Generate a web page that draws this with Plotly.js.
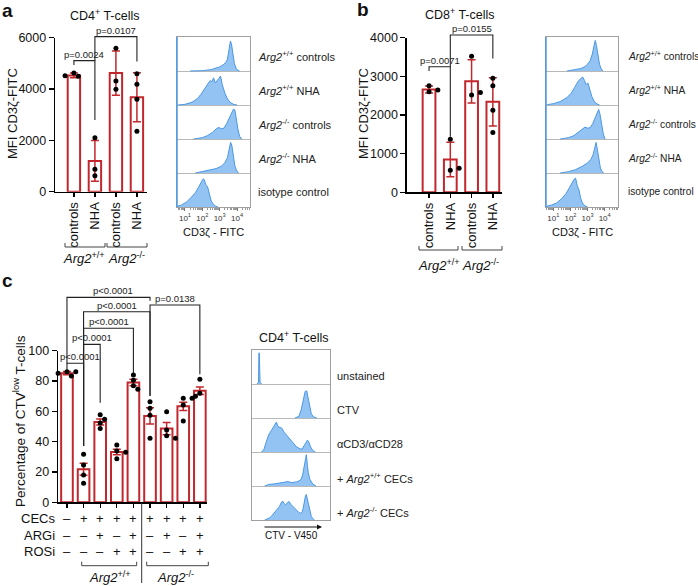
<!DOCTYPE html>
<html><head><meta charset="utf-8">
<script src="https://cdn.plot.ly/plotly-3.0.1.min.js"></script>
<style>html,body{margin:0;padding:0;background:#fff}#chart{width:698px;height:586px}</style>
</head><body><div id="chart"></div>
<script>
// ================= DATA =================
const abCategories = ['controls','NHA','controls','NHA'];
const cd4Means = [4530, 1200, 4620, 3680];
const cd4SD = [90, 790, 860, 955];
const cd4Points = [[4620,4500,4520],[2100,870,620],[5590,4310,3990],[4600,4190,3600,2360]];
const cd8Means = [2660, 850, 2870, 2340];
const cd8SD = [90, 445, 560, 625];
const cd8Points = [[2760,2600,2650],[1370,570,620],[3520,2520,2580],[2950,2760,2120,1550]];
const ctvMeans = [85.2, 21.8, 53.0, 33.2, 79.0, 57.0, 48.6, 63.3, 73.6];
const ctvSEM = [1.0, 4.0, 2.0, 1.8, 2.2, 5.3, 4.0, 2.7, 2.5];
const ctvPoints = [[86.1,86.1,85.1,83.3],[31.7,24.6,18.0,12.5],[57.8,54.7,52.3,48.6],[37.8,33.8,33.0,28.8],
  [84.0,80.5,76.9,74.5],[66.4,62.0,57.4,42.2],[59.8,47.7,43.9,42.2],[68.6,68.6,64.2,53.6],[81.1,72.0,71.0,70.0]];
const treatNames = ['CECs','ARGi','ROSi'];
const cecsRow = ['–','+','+','+','+','+','+','+','+'];
const argiRow = ['–','–','+','–','+','–','+','–','+'];
const rosiRow = ['–','–','–','+','+','–','–','+','+'];
const genotypes = ['<i>Arg2</i><sup>+/+</sup>','<i>Arg2</i><sup>-/-</sup>'];
const histABLabels = ['<i>Arg2</i><sup>+/+</sup> controls','<i>Arg2</i><sup>+/+</sup> NHA','<i>Arg2</i><sup>-/-</sup> controls','<i>Arg2</i><sup>-/-</sup> NHA','isotype control'];
const histCLabels = ['unstained','CTV','αCD3/αCD28','+ <i>Arg2</i><sup>+/+</sup> CECs','+ <i>Arg2</i><sup>-/-</sup> CECs'];
const logTickVals = [1,2,3,4];
const logTickText = ['10<sup>1</sup>','10<sup>2</sup>','10<sup>3</sup>','10<sup>4</sup>'];

// histogram outlines (x = log10 FITC for a/b, arbitrary CTV units for c; y = relative count)
const hA1x=[1.3,2.0,2.5,2.8,3.0,3.2,3.35,3.45,3.55,3.62,3.68,3.75,3.85,3.95,4.05,4.15];
const hA1y=[0,0.01,0.04,0.08,0.12,0.18,0.25,0.35,0.6,0.88,0.8,0.5,0.22,0.08,0.02,0];
const hA2x=[0.6,1.0,1.4,1.7,1.9,2.1,2.3,2.45,2.55,2.65,2.75,2.85,2.95,3.05,3.15,3.3,3.45,3.6,3.8,4.0];
const hA2y=[0,0.02,0.08,0.18,0.3,0.45,0.6,0.72,0.68,0.8,0.65,0.7,0.78,0.85,0.6,0.35,0.18,0.08,0.02,0];
const hA3x=[1.5,2.0,2.3,2.6,2.8,2.95,3.1,3.25,3.4,3.55,3.68,3.8,3.88,3.95,4.05,4.15,4.27];
const hA3y=[0,0.04,0.1,0.2,0.3,0.34,0.3,0.32,0.45,0.6,0.75,0.88,0.85,0.6,0.3,0.08,0];
const hA4x=[1.6,2.0,2.4,2.8,3.1,3.3,3.45,3.55,3.63,3.7,3.78,3.88,4.0,4.1];
const hA4y=[0,0.04,0.08,0.13,0.2,0.3,0.45,0.7,0.9,0.82,0.5,0.2,0.05,0];
const hA5x=[0.55,0.8,1.1,1.35,1.6,1.8,1.95,2.05,2.12,2.2,2.3,2.4,2.5,2.6,2.75,2.9];
const hA5y=[0.02,0.06,0.15,0.28,0.42,0.6,0.75,0.83,0.8,0.65,0.6,0.38,0.2,0.1,0.03,0];
const hB1x=[1.8,2.3,2.6,2.85,3.0,3.15,3.28,3.38,3.45,3.52,3.6,3.7,3.8,3.9];
const hB1y=[0,0.03,0.07,0.13,0.2,0.3,0.5,0.75,0.9,0.75,0.45,0.2,0.06,0];
const hB2x=[0.65,1.0,1.4,1.8,2.05,2.25,2.45,2.6,2.72,2.82,2.92,3.02,3.12,3.25,3.4,3.55,3.7];
const hB2y=[0.01,0.04,0.1,0.22,0.35,0.52,0.7,0.78,0.82,0.72,0.6,0.65,0.45,0.25,0.1,0.03,0];
const hB3x=[1.4,1.9,2.2,2.5,2.7,2.85,3.0,3.15,3.3,3.45,3.57,3.65,3.72,3.82,3.92,4.02];
const hB3y=[0,0.04,0.1,0.22,0.3,0.35,0.32,0.33,0.45,0.65,0.82,0.87,0.75,0.45,0.15,0];
const hB4x=[1.4,1.9,2.3,2.7,3.0,3.2,3.33,3.43,3.5,3.57,3.65,3.75,3.85,3.95];
const hB4y=[0,0.04,0.1,0.2,0.3,0.4,0.55,0.8,0.9,0.7,0.4,0.15,0.04,0];
const hB5x=[0.6,0.9,1.2,1.5,1.75,1.95,2.1,2.22,2.3,2.4,2.5,2.6,2.7,2.85,3.0];
const hB5y=[0.02,0.06,0.12,0.25,0.4,0.58,0.72,0.82,0.85,0.62,0.5,0.25,0.12,0.03,0];
const hC1x=[6,8,8.5,9,9.5,10,12];
const hC1y=[0,0.05,0.9,0.92,0.5,0.05,0];
const hC2x=[55,60,63,66,68,70,72,74,76,79,83];
const hC2y=[0,0.05,0.25,0.6,0.78,0.8,0.6,0.3,0.12,0.03,0];
const hC3x=[12,15,18,21,25,28,31,33,35,38,41,44,47,50,53,57,61,64,67,69,71,73,75,78,81];
const hC3y=[0,0.08,0.3,0.5,0.65,0.75,0.88,0.75,0.72,0.7,0.58,0.5,0.4,0.32,0.25,0.15,0.1,0.08,0.2,0.3,0.35,0.28,0.15,0.04,0];
const hC4x=[16,19,22,28,35,42,46,50,54,57,60,63,65,67,68.5,69.5,71,72,74,76,78,82];
const hC4y=[0,0.02,0.05,0.06,0.08,0.1,0.13,0.1,0.11,0.12,0.15,0.2,0.35,0.6,0.85,0.92,0.6,0.4,0.2,0.1,0.05,0];
const hC5x=[16,18.5,22,25,28,30,33,35,37,39,41,43,45,47,50,52,55,57,60,62,64,65.5,67,68.5,69.5,71,72.5,74,76,78,80];
const hC5y=[0,0.02,0.06,0.12,0.2,0.26,0.33,0.4,0.5,0.56,0.48,0.44,0.5,0.55,0.45,0.4,0.33,0.3,0.22,0.2,0.22,0.35,0.6,0.72,0.75,0.6,0.42,0.22,0.1,0.04,0];

// ================= LAYOUT HELPERS =================
const W=698, H=586;
const PX = v => v/W, PY = v => 1 - v/H;
const RED='#c1272d', BFILL='#92c3f2', BLINE='#4b98e4';
const FONT='Liberation Sans, Arial, sans-serif';

// bracket specs (x in bar index, y in data units)
const cd4Br = [{a:0,b:1,top:5107,la:4940,lb:2795,t:'p=0.0024'},{a:1,b:3,top:6043,la:5107,lb:5068,t:'p=0.0107'}];
const cd8Br = [{a:0,b:1,top:3248,la:3137,lb:1440,t:'p=0.0071'},{a:1,b:3,top:4068,la:3248,lb:3465,t:'p=0.0155'}];
const ctvBr = [{a:0,b:1,top:91.7,la:87.3,lb:37.1,t:'p&lt;0.0001',tx:0.77},
  {a:1,b:2,top:104.2,la:37.1,lb:65.7,t:'p&lt;0.0001'},
  {a:1,b:4,top:114.8,la:37.1,lb:85.1,t:'p&lt;0.0001'},
  {a:1,b:5,top:125.7,la:37.1,lb:70.1,t:'p&lt;0.0001'},
  {a:0,b:5,top:135.2,la:91.7,lb:133,t:'p&lt;0.0001',tx:2.78},
  {a:5,b:8,top:130.1,la:70.1,lb:84.4,t:'p=0.0138'}];

function swarm(vals, pxY, pxX, d){
  const placed=[], out=[];
  vals.forEach(v=>{
    const yp=v*pxY; let chosen=0;
    for(let k=0;k<30;k++){
      const dx = k===0?0:((k%2)?1:-1)*Math.ceil(k/2)*d*0.85;
      if(placed.every(p=>Math.hypot(p.x-dx,p.y-yp)>=d)){chosen=dx;break;}
    }
    placed.push({x:chosen,y:yp}); out.push(chosen/pxX);
  });
  return out;
}

const traces=[], shapes=[], annotations=[];
function A(o){ annotations.push(Object.assign({showarrow:false, xanchor:'center', yanchor:'middle'}, o)); }
function barPanel(means, err, pts, xa, ya, bw, pxY, pxX){
  traces.push({type:'bar', x:means.map((_,i)=>i), y:means, width:bw, xaxis:xa, yaxis:ya,
    marker:{color:'white', line:{color:RED,width:2}},
    error_y:{type:'data', array:err, visible:true, color:RED, thickness:1.5, width:4},
    hoverinfo:'skip', showlegend:false});
  const xs=[], ys=[];
  pts.forEach((g,i)=>{ const off=swarm(g,pxY,pxX,5.2); g.forEach((v,j)=>{xs.push(i+off[j]); ys.push(v);}); });
  traces.push({type:'scatter', mode:'markers', x:xs, y:ys, xaxis:xa, yaxis:ya,
    marker:{color:'#000', size:5}, hoverinfo:'skip', showlegend:false, cliponaxis:false});
}
function brackets(list, xa, ya){
  traces.push({type:'scatter', mode:'markers', x:[0], y:[0], xaxis:xa, yaxis:ya, marker:{opacity:0}, hoverinfo:'skip', showlegend:false});
  list.forEach(b=>{
    shapes.push({type:'path', xref:xa, yref:ya, layer:'above',
      path:`M ${b.a} ${b.la} L ${b.a} ${b.top} L ${b.b} ${b.top} L ${b.b} ${b.lb}`,
      line:{color:'#222', width:1.1}});
    A({xref:xa, yref:ya, x:(b.tx!==undefined?b.tx:(b.a+b.b)/2), y:b.top, yanchor:'bottom', yshift:-1,
      text:b.t, font:{size:9.5, color:'#222'}});
  });
}
function hist(rowsX, rowsY, xa, ya){
  rowsX.forEach((xs,i)=>{
    const base=4-i, hs=rowsY[i];
    traces.push({type:'scatter', mode:'lines', xaxis:xa, yaxis:ya,
      x:[xs[0]].concat(xs,[xs[xs.length-1]]), y:[base].concat(hs.map(h=>base+h),[base]),
      fill:'toself', fillcolor:BFILL, line:{color:BLINE,width:1}, hoverinfo:'skip', showlegend:false});
  });
}

// ---- panels a, b, c bars ----
barPanel(cd4Means, cd4SD, cd4Points, 'x','y', 0.59, 154/6000, 21);
brackets(cd4Br, 'x2','y2');
barPanel(cd8Means, cd8SD, cd8Points, 'x3','y3', 0.6, 154.6/4000, 21.3);
brackets(cd8Br, 'x4','y4');
barPanel(ctvMeans, ctvSEM, ctvPoints, 'x5','y5', 0.7, 1.516, 16.625);
brackets(ctvBr, 'x6','y6');

// ---- histograms ----
hist([hA1x,hA2x,hA3x,hA4x,hA5x],[hA1y,hA2y,hA3y,hA4y,hA5y],'x7','y7');
hist([hB1x,hB2x,hB3x,hB4x,hB5x],[hB1y,hB2y,hB3y,hB4y,hB5y],'x8','y8');
hist([hC1x,hC2x,hC3x,hC4x,hC5x],[hC1y,hC2y,hC3y,hC4y,hC5y],'x9','y9');

// ================= AXES =================
const minorLog=[]; for(let d=0;d<5;d++) for(let k=2;k<10;k++) minorLog.push(d+Math.log10(k));
function barX(dom, range, labels, anchor){
  return {domain:dom, range, anchor, showline:true, linecolor:'#000', linewidth:1.3, ticks:'outside', ticklen:4, tickwidth:1.3, tickcolor:'#000',
    tickvals:labels?labels.map((_,i)=>i):[0,1,2,3,4,5,6,7,8], ticktext:labels||undefined, showticklabels:!!labels, tickangle:-90,
    tickfont:{size:13,color:'#111'}, showgrid:false, zeroline:false, fixedrange:true};
}
function barY(dom, range, dtick, anchor){
  return {domain:dom, range, anchor, showline:true, linecolor:'#000', linewidth:1.3, ticks:'outside', ticklen:5, tickwidth:1.3, tickcolor:'#000',
    dtick, tick0:0, tickfont:{size:12.5,color:'#111'}, showgrid:false, zeroline:false, fixedrange:true};
}
function hidden(dom, range, anchor){ return {domain:dom, range, anchor, visible:false, fixedrange:true}; }
function histX(dom, range, anchor, logTicks){
  const a={domain:dom, range, anchor, showline:true, mirror:true, linecolor:'#a0a0a0', linewidth:1, showgrid:false, zeroline:false, fixedrange:true};
  if(logTicks){ Object.assign(a,{tickvals:logTickVals, ticktext:logTickText, ticks:'outside', ticklen:3, tickcolor:'#777', tickfont:{size:8,color:'#333'},
    minor:{tickvals:minorLog, ticks:'outside', ticklen:2, tickcolor:'#999'}}); }
  else { Object.assign(a,{showticklabels:false, ticks:''}); }
  return a;
}
function histY(dom, anchor){
  return {domain:dom, range:[0,5], anchor, showline:true, mirror:true, linecolor:'#a0a0a0', linewidth:1, showgrid:true, gridcolor:'#b8b8b8', gridwidth:1,
    tickvals:[1,2,3,4], showticklabels:false, ticks:'', zeroline:false, fixedrange:true};
}

const aXd=[PX(55),PX(147)], aXr=[-0.9,3.48];
const bXd=[PX(406.7),PX(502)], bXr=[-1.05,3.43];
const cXd=[PX(58),PX(207)], cXr=[-0.54,8.43];
const layout = {
  width:W, height:H, margin:{l:0,r:0,t:0,b:0}, paper_bgcolor:'#fff', plot_bgcolor:'rgba(0,0,0,0)',
  font:{family:FONT, color:'#111'}, showlegend:false, bargap:0,
  xaxis: barX(aXd, aXr, abCategories, 'y'),
  yaxis: barY([PY(191.7),PY(37.7)], [0,6000], 2000, 'x'),
  xaxis2: hidden(aXd, aXr, 'y2'),
  yaxis2: hidden([PY(191.7),PY(18)], [0,(191.7-18)/(154/6000)], 'x2'),
  xaxis3: barX(bXd, bXr, abCategories, 'y3'),
  yaxis3: barY([PY(192.3),PY(37.7)], [0,4000], 1000, 'x3'),
  xaxis4: hidden(bXd, bXr, 'y4'),
  yaxis4: hidden([PY(192.3),PY(18)], [0,(192.3-18)/(154.6/4000)], 'x4'),
  xaxis5: barX(cXd, cXr, null, 'y5'),
  yaxis5: barY([PY(502.3),PY(350.7)], [0,100], 20, 'x5'),
  xaxis6: hidden(cXd, cXr, 'y6'),
  yaxis6: hidden([PY(502.3),PY(284)], [0,(502.3-284)/1.516], 'x6'),
  xaxis7: histX([PX(177),PX(250)], [0.54,4.75], 'y7', true),
  yaxis7: histY([PY(207),PY(37)], 'x7'),
  xaxis8: histX([PX(546),PX(618)], [0.57,4.78], 'y8', true),
  yaxis8: histY([PY(207),PY(37)], 'x8'),
  xaxis9: histX([PX(252.3),PX(330)], [0,100], 'y9', false),
  yaxis9: histY([PY(520),PY(350)], 'x9'),
  shapes, annotations
};

// ================= DECORATIONS =================
function ann(x,y,text,size,extra){ A(Object.assign({xref:'paper',yref:'paper',x:PX(x),y:PY(y),text,font:{size,color:'#111'}},extra||{})); }
function line(x0,y0,x1,y1,w,c){ shapes.push({type:'line',xref:'paper',yref:'paper',x0:PX(x0),y0:PY(y0),x1:PX(x1),y1:PY(y1),line:{color:c||'#333',width:w||1}}); }
function groupBr(x0,x1,y){ shapes.push({type:'path',xref:'paper',yref:'paper',
  path:`M ${PX(x0)} ${PY(y-4)} L ${PX(x0)} ${PY(y)} L ${PX(x1)} ${PY(y)} L ${PX(x1)} ${PY(y-4)}`, line:{color:'#444',width:1}}); }

// panel letters
ann(0,10,'<b>a</b>',19,{xanchor:'left'});
ann(355,9,'<b>b</b>',19,{xanchor:'left'});
ann(0,281,'<b>c</b>',19,{xanchor:'left'});
// titles
ann(104.5,15,'CD4<sup>+</sup> T-cells',12.5);
ann(459.5,14,'CD8<sup>+</sup> T-cells',12.5);
ann(294,337,'CD4<sup>+</sup> T-cells',12.5);
// y titles
ann(12,114,'MFI CD3ζ-FITC',13,{textangle:-90});
ann(363,114,'MFI CD3ζ-FITC',13,{textangle:-90});
ann(19,421,'Percentage of CTV<sup>low</sup> T-cells',13.5,{textangle:-90});
// group brackets a, b
groupBr(65,105,247); groupBr(107,147,247);
ann(84,258,genotypes[0],13); ann(126,258,genotypes[1],13);
groupBr(419,458,250); groupBr(462,502,250);
ann(439,265,genotypes[0],13); ann(481,265,genotypes[1],13);
// panel c treatments
const rowsY=[518.3,535,551.7];
[cecsRow,argiRow,rosiRow].forEach((row,r)=>{
  ann(57,rowsY[r],treatNames[r],13,{xanchor:'right'});
  row.forEach((s,i)=>A({xref:'x5',yref:'paper',x:i,y:PY(rowsY[r]),text:s,font:{size:13,color:'#111'}}));
});
line(141.7,503,141.7,583,1,'#333');
groupBr(81.7,136.7,565.7); groupBr(146.7,208.3,565.7);
ann(110,577,genotypes[0],13); ann(175,577,genotypes[1],13);
// histogram labels
histABLabels.forEach((t,i)=>{
  A({xref:'paper',yref:'y7',x:PX(256),y:4-i+0.45,xanchor:'left',text:t,font:{size:11,color:'#222'}});
  A({xref:'paper',yref:'y8',x:PX(626),y:4-i+0.45,xanchor:'left',text:t,font:{size:10.2,color:'#222'}});
});
histCLabels.forEach((t,i)=>A({xref:'paper',yref:'y9',x:PX(335),y:4-i+0.25,xanchor:'left',text:t,font:{size:11,color:'#222'}}));
ann(213,232,'CD3ζ - FITC',11);
ann(582,232,'CD3ζ - FITC',11);
// blue left edge of FITC histograms
['x7','x8'].forEach((xa,k)=>shapes.push({type:'line',xref:xa+' domain',yref:(k?'y8':'y7')+' domain',x0:0,x1:0,y0:0,y1:1,line:{color:BLINE,width:1.5}}));
// CTV arrow
annotations.push({xref:'paper',yref:'paper',x:PX(322),y:PY(527),ax:-59,ay:0,axref:'pixel',ayref:'pixel',text:'',showarrow:true,arrowhead:2,arrowsize:1,arrowwidth:1,arrowcolor:'#111'});
ann(291,535,'CTV - V450',10);

Plotly.newPlot('chart', traces, layout, {staticPlot:true, displayModeBar:false});
</script></body></html>
